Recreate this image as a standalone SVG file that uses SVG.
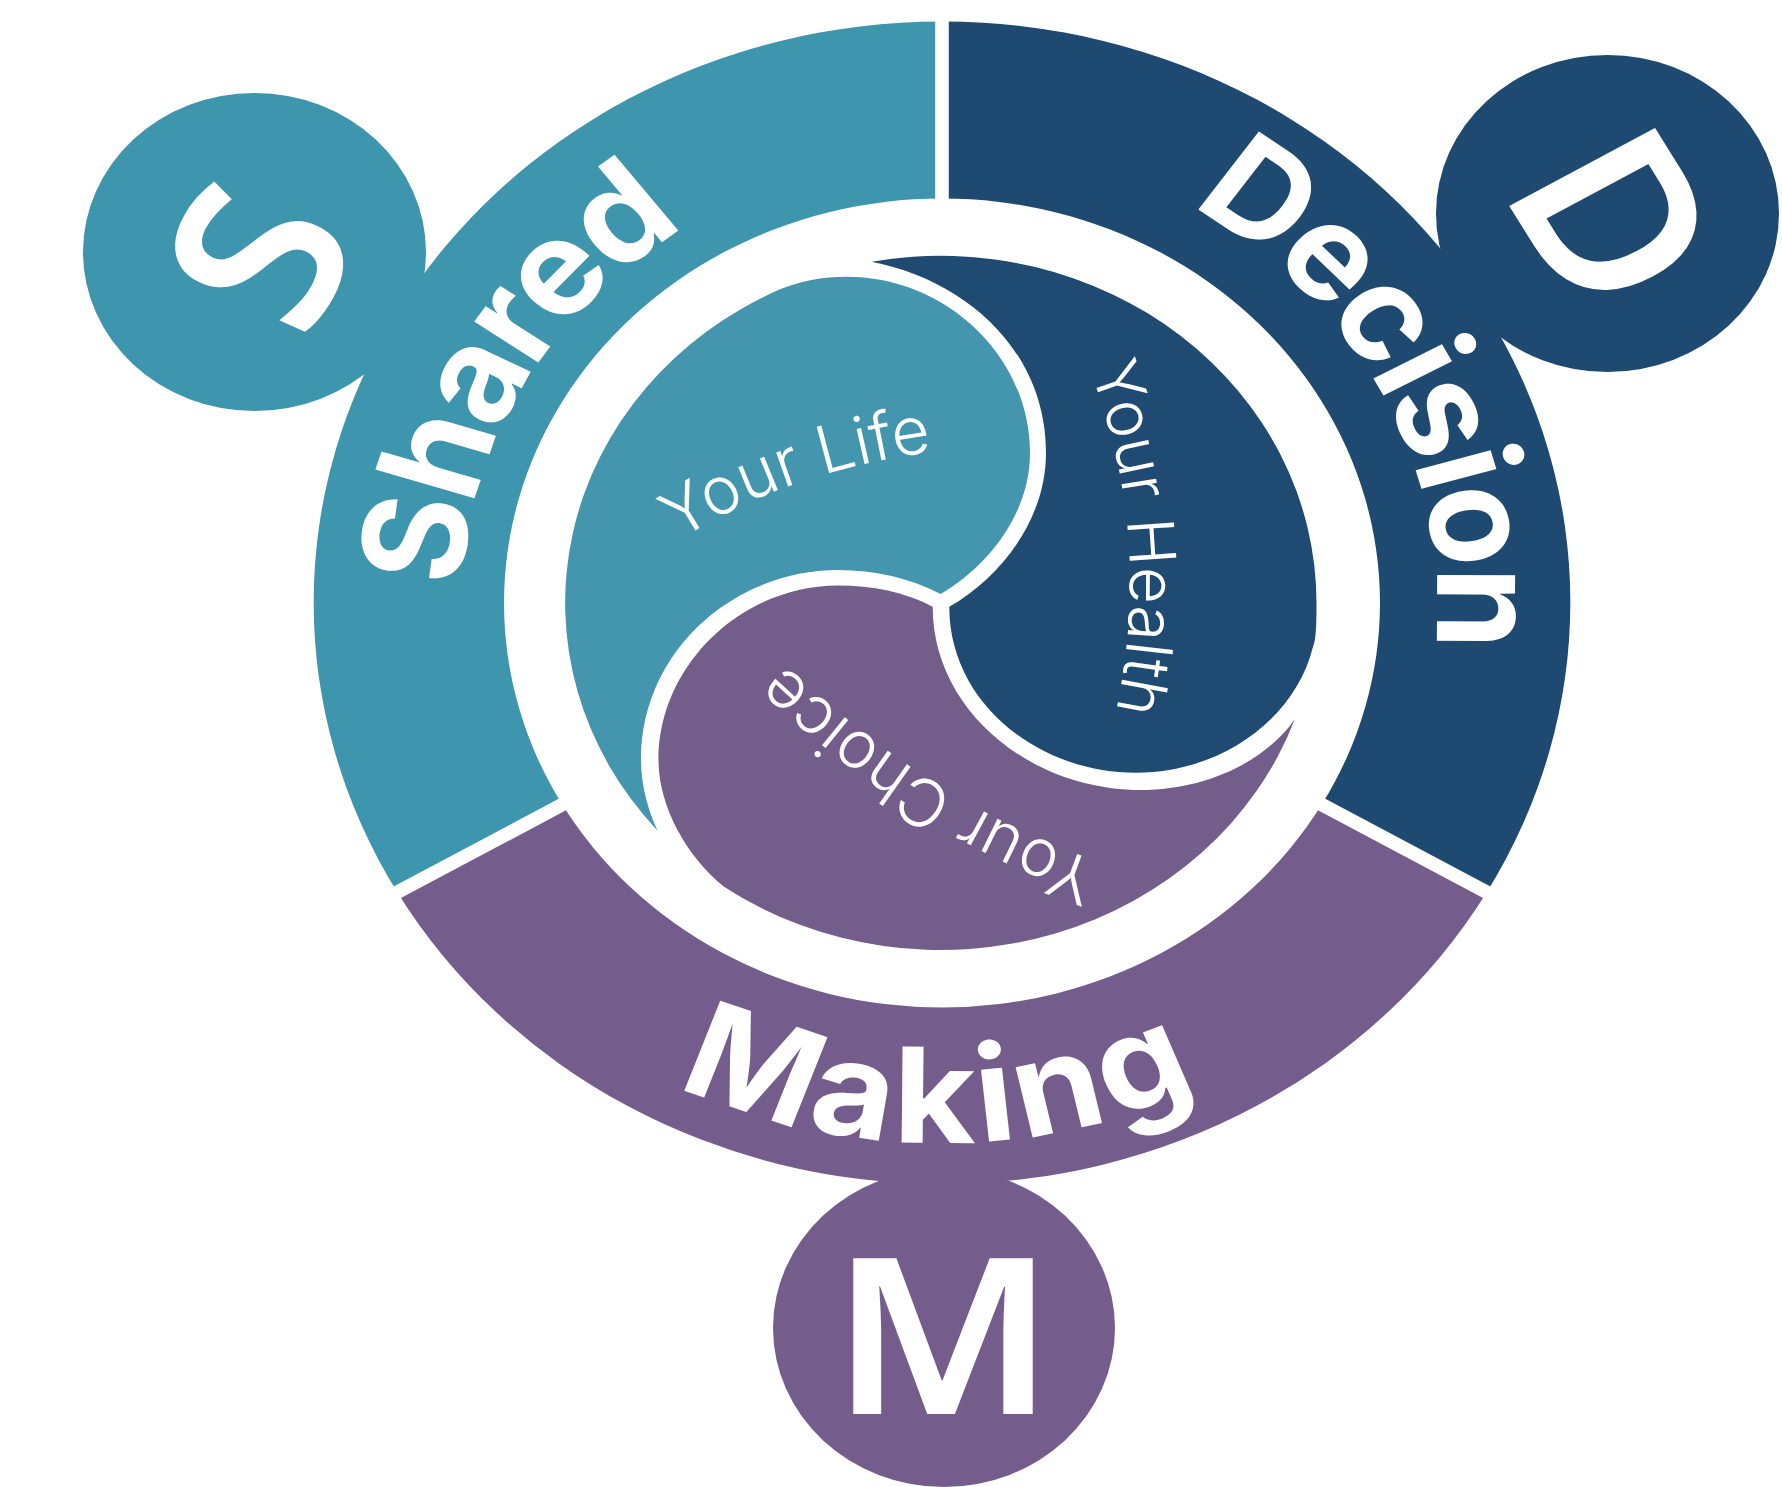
<svg xmlns="http://www.w3.org/2000/svg" width="1782" height="1487" viewBox="0 0 1782 1487">
<style>
text{text-rendering:geometricPrecision}
.teal{fill:#3d95ae}.navy{fill:#1e4970}.purple{fill:#745d8d}
.iteal{fill:#4396ad}.inavy{fill:#1f4a71}.ipurple{fill:#725d8b}
.word{font-family:"Inter","Liberation Sans",sans-serif;font-weight:700;font-size:132px;fill:#fff}
.initial{font-family:"Noto Sans","Liberation Sans",sans-serif;font-weight:600;font-size:218px;fill:#fff;text-anchor:middle}
.small{font-family:"Inter","Liberation Sans",sans-serif;font-weight:300;font-size:64px;fill:#fff}
.small-wide{font-size:66px}
.gap{stroke:#fff;stroke-width:13.6;fill:none}
</style>
<defs>
<path id="p-shared" d="M-443.7,-15.5 A444,444 0 0 1 0,-444"/>
<path id="p-decision" d="M229,-396.6 A458,458 0 0 1 396.6,229"/>
<path id="p-making" d="M-245,481.2 A540,540 0 0 0 347,413.7"/>
<path id="p-life" d="M679,541 Q785,470 945,450"/>
<path id="p-health" d="M1090,370 Q1155,540 1114,720"/>
<path id="p-choice" d="M1100,862 Q915,800 750,630"/>
</defs>
<g id="shared">
<ellipse class="teal" cx="254.5" cy="252" rx="171.5" ry="159"/>
<path class="teal" d="M942,21.5 A628,581 0 0 0 397.3,892.2 L562.3,804.6 A438,404.5 0 0 1 942,198.5 Z"/>
<text class="initial" transform="translate(259,256) scale(1.081,1) rotate(-64)" y="78">S</text>
<g transform="translate(942,603) scale(1.081,1)"><text class="word" letter-spacing="-5"><textPath href="#p-shared">Shared</textPath></text></g>
</g>
<g id="decision">
<ellipse class="navy" cx="1607.5" cy="213.5" rx="171.5" ry="158.5"/>
<path class="navy" d="M942,21.5 A628,581 0 0 1 1486.7,892.2 L1321.7,804.6 A438,404.5 0 0 0 942,198.5 Z"/>
<text class="initial" transform="translate(1615,219) scale(1.081,1) rotate(60)" y="78">D</text>
<g transform="translate(942,603) scale(1.081,1)"><text class="word" letter-spacing="-5"><textPath href="#p-decision">Decision</textPath></text></g>
</g>
<g id="making">
<ellipse class="purple" cx="944" cy="1328" rx="171" ry="159"/>
<path class="purple" d="M397.3,892.2 A628,581 0 0 0 1486.7,892.2 L1321.7,804.6 A438,404.5 0 0 1 562.3,804.6 Z"/>
<text class="initial" transform="translate(943,1336) scale(1.105,1)" y="78">M</text>
<g transform="translate(942,603) scale(1.081,1)"><text class="word" letter-spacing="4.5"><textPath href="#p-making">Making</textPath></text></g>
</g>
<g id="connectors">
<line class="gap" x1="942" y1="10" x2="942" y2="205"/>
<line class="gap" x1="385" y1="898.8" x2="568" y2="801.6"/>
<line class="gap" x1="1499" y1="898.8" x2="1316" y2="801.6"/>
</g>
<g id="your-life">
<path class="iteal" d="M657.6,830.7 A376,347 0 0 1 780,289.3 C800,281 822,276.7 846.7,276.7 C945,276.7 1030,355 1030,453.3 C1030,512 990,565 940.7,594 C910,578 875,570 838,570 C735,570 641,650 641,760 C641,785 648,810 657.6,830.7 Z"/>
<text class="small small-wide"><textPath href="#p-life">Your Life</textPath></text>
</g>
<g id="your-health">
<path class="inavy" d="M871.7,261.7 A376,347 0 0 1 1316.5,603 C1316.5,625 1316,640 1313,646.7 C1295,720 1220,772.7 1136,772.7 C1035,772.7 949,700 949.3,606.7 C1000,578 1046,520 1046,453 C1046,350 965,280 871.7,261.7 Z"/>
<text class="small"><textPath href="#p-health">Your Health</textPath></text>
</g>
<g id="your-choice">
<path class="ipurple" d="M932.7,606.7 C905,592 872,585.5 838,585.5 C742,585.5 658.5,665 658.5,760 C658.5,805 685,855 724,886.7 A376,347 0 0 0 1294.8,719.3 C1265,762 1205,790 1141,790 C1030,790 932.5,710 932.7,606.7 Z"/>
<text class="small small-wide"><textPath href="#p-choice">Your Choice</textPath></text>
</g>
</svg>
